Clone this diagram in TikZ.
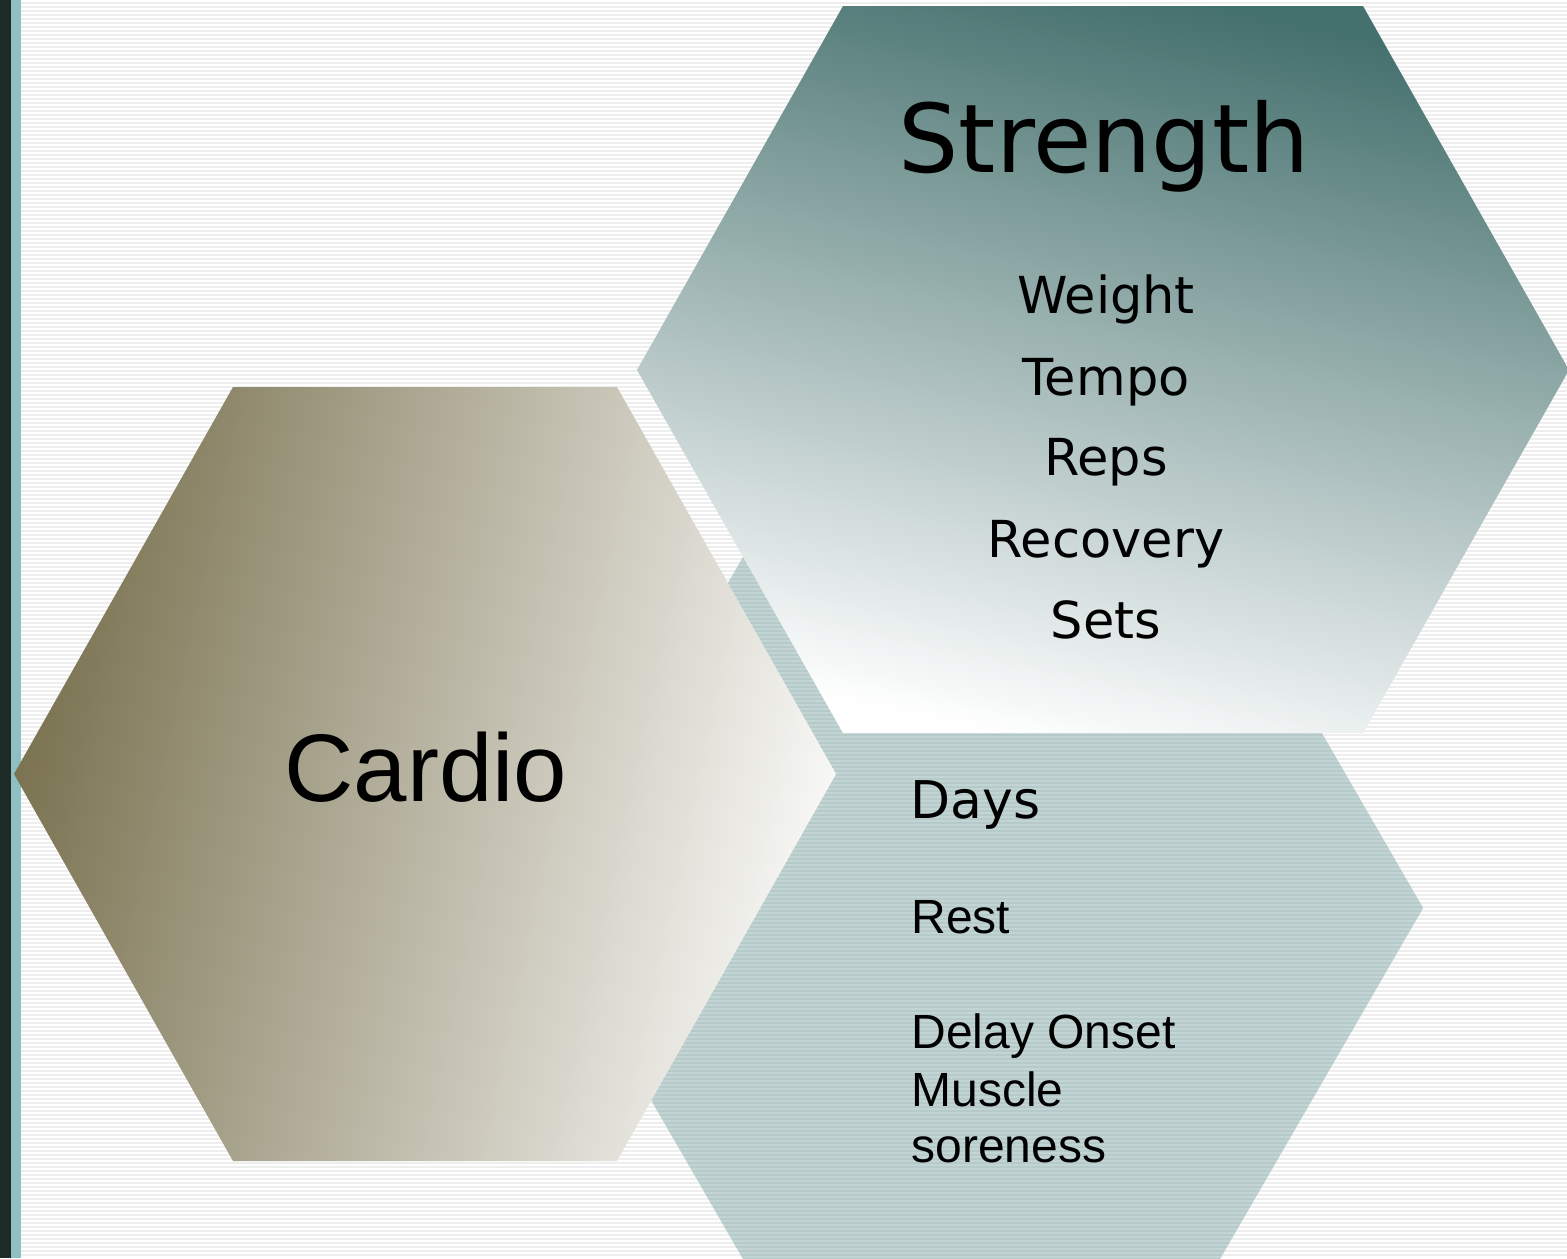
\documentclass[tikz,border=0pt]{standalone}
\usepackage{fontspec}
\setmainfont{Liberation Sans}
\newfontfamily\widesans{DejaVu Sans}

\definecolor{barDark}{HTML}{1D2B27}
\definecolor{barTeal}{HTML}{8EC0C3}
\definecolor{paper}{HTML}{EEEEEE}
\definecolor{strengthTop}{HTML}{44706D}
\definecolor{strengthMid}{HTML}{AEBCBC}
\definecolor{cardioDark}{HTML}{7A7250}
\definecolor{cardioLight}{HTML}{F8F8F6}
\definecolor{daysFill}{HTML}{B7CACA}
\definecolor{daysLine}{HTML}{C3D4D4}

\tikzset{
  lbl/.style={inner sep=0pt, text=black},
  bigtitle/.style={lbl, font=\widesans\fontsize{47.5}{57}\selectfont, anchor=base},
  item/.style={lbl, font=\widesans\fontsize{25.5}{30}\selectfont, anchor=base},
  cardiotitle/.style={lbl, font=\fontsize{48}{58}\selectfont, anchor=base},
  daystitle/.style={lbl, font=\widesans\fontsize{26}{31}\selectfont, anchor=base west},
  note/.style={lbl, font=\fontsize{24}{28.5}\selectfont, anchor=base west},
}

\begin{document}
\begin{tikzpicture}[x=0.5pt, y=-0.5pt]
  \useasboundingbox (0,0) rectangle (1567,1258);
  \clip (0,0) rectangle (1567,1258);

  % striped paper
  \fill[paper] (0,0) rectangle (1567,1258);
  \foreach \yy in {0,4,...,1256}
    \fill[white] (21,\yy) rectangle (1567,\yy+2);

  % left edge bars
  \fill[barDark] (0,0) rectangle (11,1258);
  \fill[barTeal] (11,0) rectangle (21,1258);

  % Days hexagon (lowest layer), striped fill
  \begin{scope}
    \clip (540,908) -- (761,526) -- (1202,526) -- (1423,908)
          -- (1202,1290) -- (761,1290) -- cycle;
    \fill[daysFill] (500,500) rectangle (1450,1300);
    \foreach \yy in {500,504,...,1300}
      \fill[daysLine] (500,\yy) rectangle (1450,\yy+1.6);
  \end{scope}

  % Strength hexagon
  \shade[top color=strengthTop, middle color=strengthMid, bottom color=white,
         shading angle=-12]
    (843,6) -- (1363,6) -- (1569,370) -- (1363,733) -- (843,733)
    -- (637,370) -- cycle;

  % Cardio hexagon
  \shade[top color=cardioDark, bottom color=cardioLight, shading angle=78]
    (233,387) -- (617,387) -- (836,774) -- (617,1161) -- (233,1161)
    -- (14,774) -- cycle;

  % Strength labels
  \node[bigtitle] (strength) at (1104,172) {Strength};
  \node[item] (weight)   at (1106,313) {Weight};
  \node[item] (tempo)    at (1106,395) {Tempo};
  \node[item] (reps)     at (1106,475) {Reps};
  \node[item] (recovery) at (1106,557) {Recovery};
  \node[item] (sets)     at (1106,638) {Sets};

  % Cardio label
  \node[cardiotitle] (cardio) at (426,801) {Cardio};

  % Days labels
  \node[daystitle] (days) at (910,818) {Days};
  \node[note] (rest)  at (911,933) {Rest};
  \node[note] (doms1) at (911,1048) {Delay Onset};
  \node[note] (doms2) at (911,1106) {Muscle};
  \node[note] (doms3) at (911,1162) {soreness};
\end{tikzpicture}
\end{document}
